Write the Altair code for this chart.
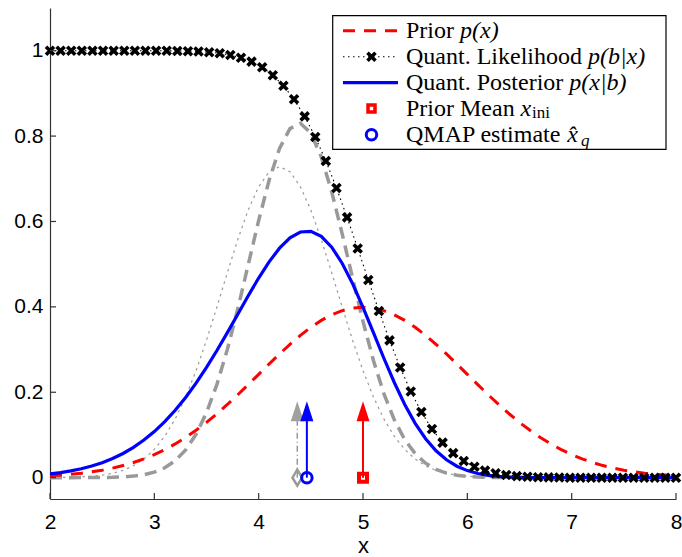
import altair as alt
import numpy as np
import pandas as pd

# ---- data -------------------------------------------------------------
# fine grid for the smooth densities, coarse grid for the quantized likelihood
x_grid = np.round(np.linspace(2.0, 8.0, 61), 1)
x_quant = np.linspace(2.0, 8.0, 60)

prior_pdf = [
    0.0044, 0.0060, 0.0079, 0.0104, 0.0136, 0.0175, 0.0224, 0.0283, 0.0355, 0.0440,
    0.0540, 0.0656, 0.0790, 0.0940, 0.1109, 0.1295, 0.1497, 0.1714, 0.1942, 0.2179,
    0.2420, 0.2661, 0.2897, 0.3123, 0.3332, 0.3521, 0.3683, 0.3814, 0.3910, 0.3970,
    0.3989, 0.3970, 0.3910, 0.3814, 0.3683, 0.3521, 0.3332, 0.3123, 0.2897, 0.2661,
    0.2420, 0.2179, 0.1942, 0.1714, 0.1497, 0.1295, 0.1109, 0.0940, 0.0790, 0.0656,
    0.0540, 0.0440, 0.0355, 0.0283, 0.0224, 0.0175, 0.0136, 0.0104, 0.0079, 0.0060,
    0.0044,
]

posterior_quant = [
    0.0089, 0.0119, 0.0158, 0.0208, 0.0272, 0.0350, 0.0448, 0.0566, 0.0710, 0.0880,
    0.1080, 0.1312, 0.1579, 0.1878, 0.2214, 0.2582, 0.2978, 0.3398, 0.3829, 0.4261,
    0.4675, 0.5054, 0.5375, 0.5616, 0.5753, 0.5769, 0.5651, 0.5399, 0.5023, 0.4545,
    0.3989, 0.3395, 0.2797, 0.2229, 0.1715, 0.1273, 0.0911, 0.0630, 0.0419, 0.0268,
    0.0165, 0.0097, 0.0055, 0.0030, 0.0016, 0.0008, 0.0004, 0.0002, 0.0001, 0.0000,
    0.0000, 0.0000, 0.0000, 0.0000, 0.0000, 0.0000, 0.0000, 0.0000, 0.0000, 0.0000,
    0.0000,
]

# unquantized likelihood p(y|x) and unquantized posterior (gray curves)
likelihood_gauss = [
    0.0002, 0.0005, 0.0009, 0.0018, 0.0033, 0.0059, 0.0102, 0.0171, 0.0278, 0.0436,
    0.0661, 0.0970, 0.1376, 0.1888, 0.2507, 0.3219, 0.3998, 0.4802, 0.5579, 0.6269,
    0.6814, 0.7164, 0.7284, 0.7164, 0.6814, 0.6269, 0.5579, 0.4802, 0.3998, 0.3219,
    0.2507, 0.1888, 0.1376, 0.0970, 0.0661, 0.0436, 0.0278, 0.0171, 0.0102, 0.0059,
    0.0033, 0.0018, 0.0009, 0.0005, 0.0002, 0.0001, 0.0000, 0.0000, 0.0000, 0.0000,
    0.0000, 0.0000, 0.0000, 0.0000, 0.0000, 0.0000, 0.0000, 0.0000, 0.0000, 0.0000,
    0.0000,
]

posterior_gauss = [
    0.0000, 0.0000, 0.0000, 0.0001, 0.0002, 0.0004, 0.0008, 0.0018, 0.0036, 0.0070,
    0.0130, 0.0232, 0.0396, 0.0648, 0.1015, 0.1521, 0.2185, 0.3004, 0.3956, 0.4988,
    0.6023, 0.6964, 0.7710, 0.8175, 0.8300, 0.8069, 0.7513, 0.6697, 0.5717, 0.4674,
    0.3659, 0.2743, 0.1969, 0.1354, 0.0891, 0.0562, 0.0339, 0.0196, 0.0108, 0.0057,
    0.0029, 0.0014, 0.0007, 0.0003, 0.0001, 0.0000, 0.0000, 0.0000, 0.0000, 0.0000,
    0.0000, 0.0000, 0.0000, 0.0000, 0.0000, 0.0000, 0.0000, 0.0000, 0.0000, 0.0000,
    0.0000,
]

likelihood_quant = [
    1.0000, 1.0000, 1.0000, 1.0000, 1.0000, 1.0000, 1.0000, 1.0000, 1.0000, 1.0000,
    1.0000, 0.9997, 0.9994, 0.9989, 0.9979, 0.9964, 0.9939, 0.9898, 0.9835, 0.9744,
    0.9610, 0.9426, 0.9180, 0.8861, 0.8462, 0.7980, 0.7418, 0.6785, 0.6096, 0.5369,
    0.4631, 0.3904, 0.3215, 0.2582, 0.2020, 0.1538, 0.1139, 0.0820, 0.0574, 0.0390,
    0.0256, 0.0165, 0.0102, 0.0061, 0.0036, 0.0021, 0.0011, 0.0006, 0.0003, 0.0000,
    0.0000, 0.0000, 0.0000, 0.0000, 0.0000, 0.0000, 0.0000, 0.0000, 0.0000, 0.0000,
]

# point estimates, drawn as arrows standing on the x axis
prior_mean = 5.0
qmap_estimate = 4.462
map_estimate = 4.37
arrow_tip = 0.179

x_ticks = [2, 3, 4, 5, 6, 7, 8]
y_ticks = [0, 0.2, 0.4, 0.6, 0.8, 1]

legend_text = ["Prior ", "Quant. Likelihood ", "Quant. Posterior ", "Prior Mean ", "QMAP estimate "]
legend_math = ["p(x)", "p(b|x)", "p(x|b)", "x", "x\u0302"]
legend_sub = ["", "", "", "ini", "q"]

# ---- styling ----------------------------------------------------------
RED, BLUE, GRAY, BLACK = "#ff0000", "#0000ff", "#999999", "#000000"
SANS, SERIF = "Liberation Sans", "Liberation Serif"
W, H = 626, 491

x_scale = alt.Scale(domain=[2, 8], nice=False, zero=False)
y_scale = alt.Scale(domain=[-0.05, 1.1], nice=False, zero=False)

x_axis = alt.Axis(
    values=x_ticks, grid=False, ticks=False, tickSize=0, domainColor="#333333",
    domainWidth=1.2, labelFont=SANS, labelFontSize=21, labelColor=BLACK,
    labelPadding=12, labelFlush=False, labelOverlap=False,
    titleFont=SANS, titleFontSize=22, titleFontWeight="normal", titleColor=BLACK,
    titleBaseline="alphabetic", titleY=53,
)
y_axis = alt.Axis(
    values=y_ticks, format="~g", grid=False, ticks=False, tickSize=0,
    domainColor="#333333", domainWidth=1.2, labelFont=SANS, labelFontSize=21,
    labelColor=BLACK, labelPadding=7, labelFlush=False, labelOverlap=False,
)

X = alt.X("x:Q", scale=x_scale, axis=x_axis, title="x")
Y = alt.Y("y:Q", scale=y_scale, axis=y_axis, title=None)

dummy = pd.DataFrame({"k": [0]})


def curve(xs, ys, color, width, dash=None):
    opts = dict(color=color, strokeWidth=width, clip=True)
    if dash:
        opts["strokeDash"] = dash
    df = pd.DataFrame({"x": xs, "y": ys})
    return alt.Chart(df).mark_line(**opts).encode(x=X, y=Y)


X_SHAPE = "M-1,-1L1,1M-1,1L1,-1"
HEAD_SHAPE = "M0,-1L0.65,1L-0.65,1Z"
DIAMOND_SHAPE = "M0,-1L0.6,0L0,1L-0.6,0Z"
X_SIZE, X_STROKE = 64, 3.6

layers = [
    curve(x_grid, likelihood_gauss, GRAY, 1.2, [2.5, 4]),
    curve(x_grid, posterior_gauss, GRAY, 3.5, [12, 7]),
    curve(x_grid, prior_pdf, RED, 3, [12, 9]),
    curve(x_grid, posterior_quant, BLUE, 3.2),
    curve(x_quant, likelihood_quant, BLACK, 1.1, [1.5, 3.5]),
    alt.Chart(pd.DataFrame({"x": x_quant, "y": likelihood_quant}))
    .mark_point(shape=X_SHAPE, size=X_SIZE, filled=False, stroke=BLACK, strokeWidth=X_STROKE, opacity=1)
    .encode(x=X, y=Y),
]

# arrow shafts
shafts = pd.DataFrame({"x": [map_estimate, qmap_estimate, prior_mean], "y": [0, 0, 0],
                       "y2": [arrow_tip - 0.045] * 3})
layers.append(
    alt.Chart(shafts.iloc[[0]]).mark_rule(color=GRAY, strokeWidth=1.5, strokeDash=[6, 3, 1, 3])
    .encode(x=X, y=Y, y2="y2:Q"))
layers.append(
    alt.Chart(shafts.iloc[[1]]).mark_rule(color=BLUE, strokeWidth=2).encode(x=X, y=Y, y2="y2:Q"))
layers.append(
    alt.Chart(shafts.iloc[[2]]).mark_rule(color=RED, strokeWidth=2).encode(x=X, y=Y, y2="y2:Q"))

# arrow heads (tip at arrow_tip, head 20 px tall)
heads = pd.DataFrame({"x": [map_estimate, qmap_estimate, prior_mean],
                      "y": [arrow_tip - 10 / 427] * 3, "c": ["#a0a0a0", BLUE, RED]})
layers.append(
    alt.Chart(heads).mark_point(shape=HEAD_SHAPE, size=400, filled=True, opacity=1)
    .encode(x=X, y=Y, color=alt.Color("c:N", scale=None)))

# estimate markers on the axis
layers.append(
    alt.Chart(pd.DataFrame({"x": [map_estimate], "y": [0]}))
    .mark_point(shape=DIAMOND_SHAPE, size=256, filled=False, stroke=GRAY, strokeWidth=2.5, opacity=1)
    .encode(x=X, y=Y))
layers.append(
    alt.Chart(pd.DataFrame({"x": [qmap_estimate], "y": [0]}))
    .mark_point(shape="circle", size=110, filled=False, stroke=BLUE, strokeWidth=3, opacity=1)
    .encode(x=X, y=Y))
layers.append(
    alt.Chart(pd.DataFrame({"x": [prior_mean], "y": [0]}))
    .mark_point(shape="square", size=64, filled=False, stroke=RED, strokeWidth=4, opacity=1)
    .encode(x=X, y=Y))

# inward tick marks
layers.append(
    alt.Chart(pd.DataFrame({"y": y_ticks})).mark_rule(color="#333333", strokeWidth=1.2)
    .encode(y=Y, x=alt.value(0), x2=alt.value(6)))
layers.append(
    alt.Chart(pd.DataFrame({"x": x_ticks})).mark_rule(color="#333333", strokeWidth=1.2)
    .encode(x=X, y=alt.value(H), y2=alt.value(H - 6)))

# ---- legend -----------------------------------------------------------
layers.append(
    alt.Chart(dummy).mark_rect(fill="white", stroke=BLACK, strokeWidth=1.2)
    .encode(x=alt.value(282.7), x2=alt.value(616), y=alt.value(7.7), y2=alt.value(141.3)))

row_y = [22.7, 48.7, 74.7, 100.5, 126.8]
sym_x0, sym_x1, sym_xc, text_x = 293, 348, 321.5, 356
math_x = [410, 538, 519.3, 470.6, 517.3]
sub_x = [None, None, None, 482.0, 531.0]
sub_dy = [0, 0, 0, 4, 6]

layers.append(alt.Chart(dummy).mark_rule(color=RED, strokeWidth=3, strokeDash=[12, 9])
              .encode(x=alt.value(sym_x0), x2=alt.value(sym_x1), y=alt.value(row_y[0])))
layers.append(alt.Chart(dummy).mark_rule(color=BLACK, strokeWidth=1.1, strokeDash=[1.5, 3.5])
              .encode(x=alt.value(sym_x0), x2=alt.value(sym_x1), y=alt.value(row_y[1])))
layers.append(alt.Chart(dummy)
              .mark_point(shape=X_SHAPE, size=X_SIZE, filled=False, stroke=BLACK, strokeWidth=X_STROKE, opacity=1)
              .encode(x=alt.value(sym_xc), y=alt.value(row_y[1])))
layers.append(alt.Chart(dummy).mark_rule(color=BLUE, strokeWidth=3.2)
              .encode(x=alt.value(sym_x0), x2=alt.value(sym_x1), y=alt.value(row_y[2])))
layers.append(alt.Chart(dummy)
              .mark_point(shape="square", size=49, filled=False, stroke=RED, strokeWidth=3.5, opacity=1)
              .encode(x=alt.value(sym_xc), y=alt.value(row_y[3])))
layers.append(alt.Chart(dummy)
              .mark_point(shape="circle", size=110, filled=False, stroke=BLUE, strokeWidth=3, opacity=1)
              .encode(x=alt.value(sym_xc), y=alt.value(row_y[4])))

for i, label in enumerate(legend_text):
    layers.append(
        alt.Chart(dummy).mark_text(font=SERIF, fontSize=24, align="left", baseline="middle", color=BLACK)
        .encode(x=alt.value(text_x), y=alt.value(row_y[i]), text=alt.value(label)))
    layers.append(
        alt.Chart(dummy).mark_text(font=SERIF, fontSize=24, fontStyle="italic", align="left",
                                   baseline="middle", color=BLACK)
        .encode(x=alt.value(math_x[i]), y=alt.value(row_y[i]), text=alt.value(legend_math[i])))
    if legend_sub[i]:
        layers.append(
            alt.Chart(dummy).mark_text(font=SERIF, fontSize=17,
                                       fontStyle="italic" if legend_sub[i] == "q" else "normal",
                                       align="left", baseline="middle", color=BLACK)
            .encode(x=alt.value(sub_x[i]), y=alt.value(row_y[i] + sub_dy[i]),
                    text=alt.value(legend_sub[i])))

chart = (
    alt.layer(*layers)
    .properties(width=W, height=H,
                padding={"left": 50, "top": 8, "right": 6, "bottom": 58},
                autosize=alt.AutoSizeParams(type="none"))
    .configure_view(stroke=None)
)

chart.save("out.html", embed_options={"renderer": "svg", "actions": False})
